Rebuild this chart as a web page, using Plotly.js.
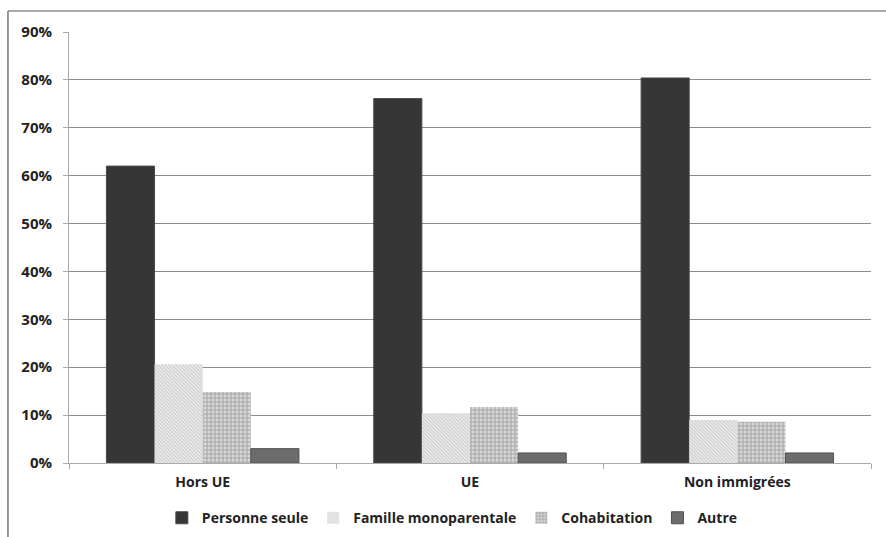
<!DOCTYPE html>
<html>
<head>
<meta charset="utf-8">
<script src="https://cdn.plot.ly/plotly-3.0.1.min.js"></script>
<style>
html,body{margin:0;padding:0;background:#fff;}
#chart{width:886px;height:537px;}
</style>
</head>
<body>
<div id="chart"></div>
<script>
const categories = ["Hors UE", "UE", "Non immigrées"];
const seriesNames = ["Personne seule", "Famille monoparentale", "Cohabitation", "Autre"];
const personneSeule = [62.0, 76.1, 80.4];
const familleMonoparentale = [20.6, 10.4, 9.0];
const cohabitation = [14.8, 11.7, 8.6];
const autre = [3.0, 2.1, 2.1];
const yTickVals = [0, 10, 20, 30, 40, 50, 60, 70, 80, 90];
const yTickText = ["0%", "10%", "20%", "30%", "40%", "50%", "60%", "70%", "80%", "90%"];

const fam = "Open Sans, Noto Sans, sans-serif";
const boldFont = {family: fam, size: 14, color: "#222", weight: "bold"};

const traces = [
  {type: "bar", name: seriesNames[0], x: categories, y: personneSeule,
   marker: {color: "#363636", line: {color: "#4a4a4a", width: 1}}},
  {type: "bar", name: seriesNames[1], x: categories, y: familleMonoparentale,
   marker: {color: "#e2e2e2", line: {color: "#e2e2e2", width: 0},
            pattern: {shape: "\\", fgcolor: "#c2c2c2", bgcolor: "#f0f0f0", size: 2.5, solidity: 0.4}}},
  {type: "bar", name: seriesNames[2], x: categories, y: cohabitation,
   marker: {color: "#c4c4c4", line: {color: "#c4c4c4", width: 0},
            pattern: {shape: "+", fgcolor: "#a6a6a6", bgcolor: "#d8d8d8", size: 4, solidity: 0.45}}},
  {type: "bar", name: seriesNames[3], x: categories, y: autre,
   marker: {color: "#6c6c6c", line: {color: "#505050", width: 1}}}
];

const layout = {
  width: 886, height: 537,
  margin: {l: 69, r: 15, t: 32, b: 74, autoexpand: false},
  paper_bgcolor: "#ffffff", plot_bgcolor: "#ffffff",
  font: {family: fam, size: 14, color: "#222"},
  barmode: "group", bargap: 0.28, bargroupgap: 0,
  showlegend: true,
  legend: {orientation: "h", x: 0.478, xanchor: "center", y: -0.128, yanchor: "middle",
           font: boldFont, itemwidth: 30, tracegroupgap: 0},
  xaxis: {type: "category", showgrid: false, showline: true, linecolor: "#aaaaaa", linewidth: 1,
          ticks: "outside", tickson: "boundaries", ticklen: 5, tickcolor: "#aaaaaa",
          tickfont: boldFont, ticklabelstandoff: 6, fixedrange: true},
  yaxis: {range: [0, 90], tickvals: yTickVals, ticktext: yTickText,
          showgrid: true, gridcolor: "#8c8c8c", gridwidth: 1,
          showline: true, linecolor: "#aaaaaa", linewidth: 1,
          ticks: "outside", ticklen: 5, tickcolor: "#aaaaaa",
          tickfont: {family: fam, size: 15, color: "#222", weight: "bold"},
          ticklabelstandoff: 8, zeroline: false, fixedrange: true},
  shapes: [
    {type: "line", xref: "paper", yref: "paper", x0: -0.0761, x1: 1.03, y0: 1.0487, y1: 1.0487,
     line: {color: "#555", width: 1.2}},
    {type: "line", xref: "paper", yref: "paper", x0: -0.0761, x1: -0.0761, y0: 1.0487, y1: -0.2,
     line: {color: "#555", width: 1.2}}
  ]
};

Plotly.newPlot("chart", traces, layout, {displayModeBar: false, staticPlot: true});
</script>
</body>
</html>
